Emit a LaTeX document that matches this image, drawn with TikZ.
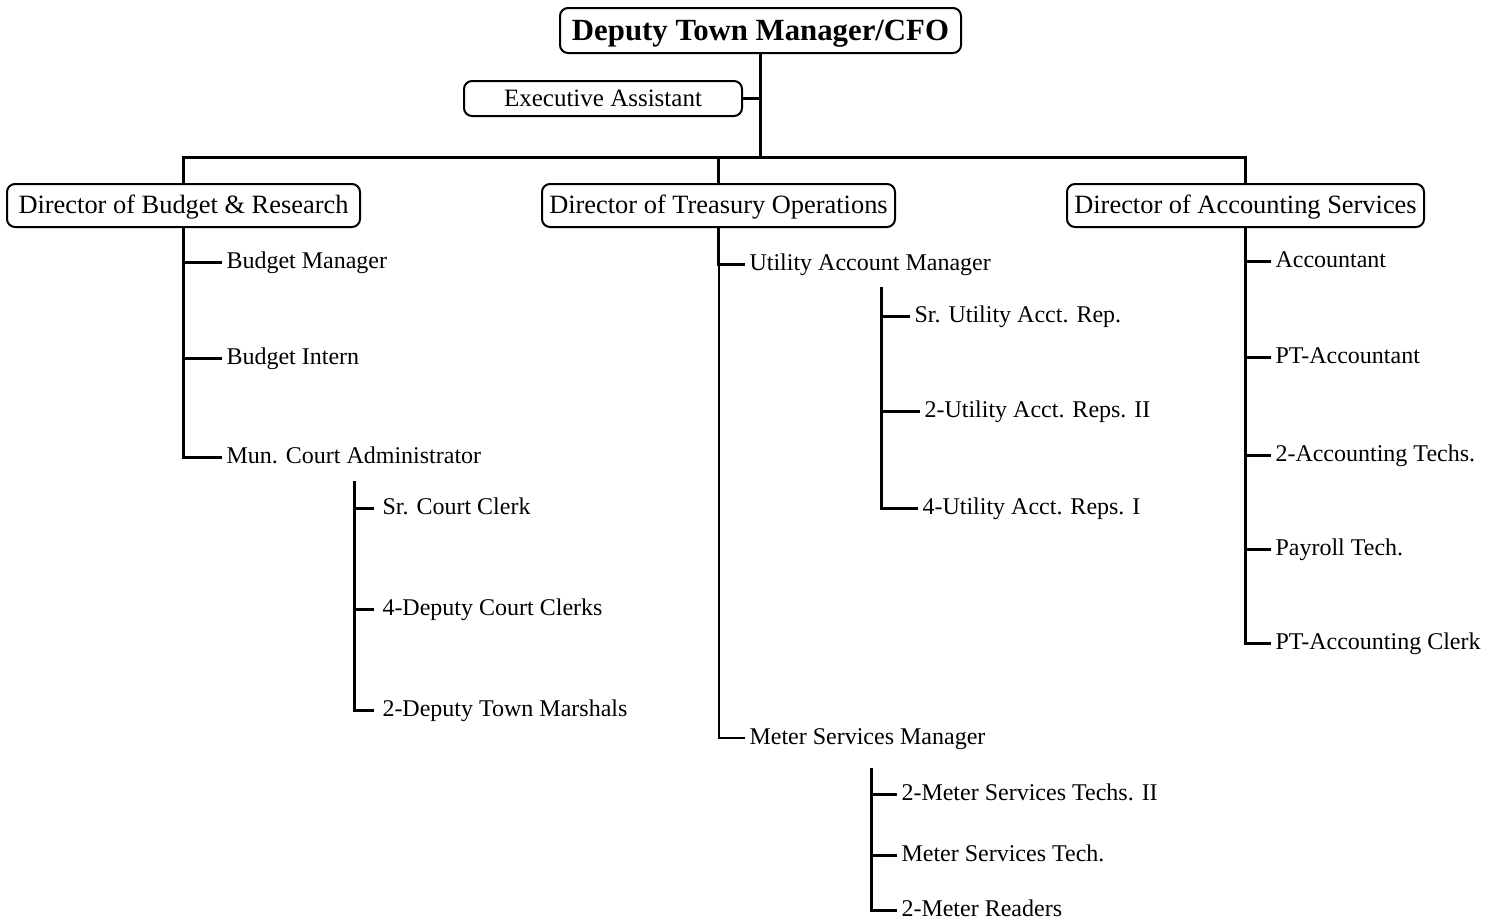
\documentclass[tikz,border=0pt]{standalone}
\usepackage{fontspec}
\setmainfont{Liberation Serif}
\begin{document}
\begin{tikzpicture}[x=0.5pt,y=-0.5pt,line width=1.5pt,
  box node/.style={draw,line width=1pt,rounded corners=4pt,inner xsep=3pt,inner ysep=0pt,
    font=\fontsize{13.2}{15}\selectfont,text height=9.5pt,text depth=2pt,
    minimum height=21.5pt,minimum width=176.5pt},
  top node/.style={box node,font=\fontsize{15.4}{18}\selectfont\bfseries,text height=12pt,
    text depth=1.8pt,minimum height=22.5pt,minimum width=200.5pt},
  ea node/.style={box node,font=\fontsize{12.5}{15}\selectfont,text height=10pt,
    text depth=1.8pt,minimum height=17.5pt,minimum width=139pt},
  item node/.style={anchor=west,inner xsep=1.5pt,inner ysep=0pt,
    font=\fontsize{12}{14}\selectfont,text height=8pt,text depth=2pt},
  wide item/.style={item node,inner xsep=3.5pt},
  thin line/.style={line width=1pt}]

  \useasboundingbox (0,0) rectangle (1498,922);

  \node[top node] (dtm) at (760.5,30.5) {Deputy Town Manager/CFO};
  \node[ea node] (ea) at (603,98.5) {Executive Assistant};
  \coordinate (bus) at (760.5,157);

  \node[box node] (dbr) at (183.5,205.5) {Director of Budget \& Research};
  \node[box node] (dto) at (718.5,205.5) {Director of Treasury Operations};
  \node[box node,minimum width=178.5pt] (das) at (1245.5,205.5) {Director of Accounting Services};

  \node[item node] (bm) at (222,262) {Budget Manager};
  \node[item node] (bi) at (222,358) {Budget Intern};
  \node[item node] (mca) at (222,457) {Mun. Court Administrator};
  \coordinate (mcatop) at (354.5,481);
  \node[wide item] (scc) at (374,508) {Sr. Court Clerk};
  \node[wide item] (dcc) at (374,609) {4-Deputy Court Clerks};
  \node[wide item] (dtmar) at (374,710) {2-Deputy Town Marshals};

  \node[item node] (uam) at (745,264) {Utility Account Manager};
  \coordinate (uamtop) at (881,287);
  \node[item node] (sua) at (910,316) {Sr. Utility Acct. Rep.};
  \node[item node] (uar2) at (920,411) {2-Utility Acct. Reps. II};
  \node[item node] (uar1) at (918,508) {4-Utility Acct. Reps. I};
  \node[item node] (msm) at (745,738) {Meter Services Manager};
  \coordinate (msmtop) at (871,768);
  \node[item node] (mst2) at (897,794) {2-Meter Services Techs. II};
  \node[item node] (mst) at (897,855) {Meter Services Tech.};
  \node[item node] (mr) at (897,910) {2-Meter Readers};

  \node[item node] (acc) at (1271,261) {Accountant};
  \node[item node] (pta) at (1271,357) {PT-Accountant};
  \node[item node] (act) at (1271,455) {2-Accounting Techs.};
  \node[item node] (prt) at (1271,549) {Payroll Tech.};
  \node[item node] (ptc) at (1271,643) {PT-Accounting Clerk};

  \draw (dtm.south) -- (bus);
  \draw (ea.east) -- (ea.east -| bus);
  \draw (dbr.north) |- (bus) -| (das.north);
  \draw (bus -| dto.north) -- (dto.north);

  \draw (dbr.south) |- (mca.west);
  \draw (dbr.south |- bm.west) -- (bm.west);
  \draw (dbr.south |- bi.west) -- (bi.west);
  \draw (mcatop) |- (dtmar.west);
  \draw (mcatop |- scc.west) -- (scc.west);
  \draw (mcatop |- dcc.west) -- (dcc.west);

  \draw (dto.south) |- (uam.west);
  \draw[thin line] (dto.south |- uam.west) |- (msm.west);
  \draw (uamtop) |- (uar1.west);
  \draw (uamtop |- sua.west) -- (sua.west);
  \draw (uamtop |- uar2.west) -- (uar2.west);
  \draw (msmtop) |- (mr.west);
  \draw (msmtop |- mst2.west) -- (mst2.west);
  \draw (msmtop |- mst.west) -- (mst.west);

  \draw (das.south) |- (ptc.west);
  \draw (das.south |- acc.west) -- (acc.west);
  \draw (das.south |- pta.west) -- (pta.west);
  \draw (das.south |- act.west) -- (act.west);
  \draw (das.south |- prt.west) -- (prt.west);
\end{tikzpicture}
\end{document}
